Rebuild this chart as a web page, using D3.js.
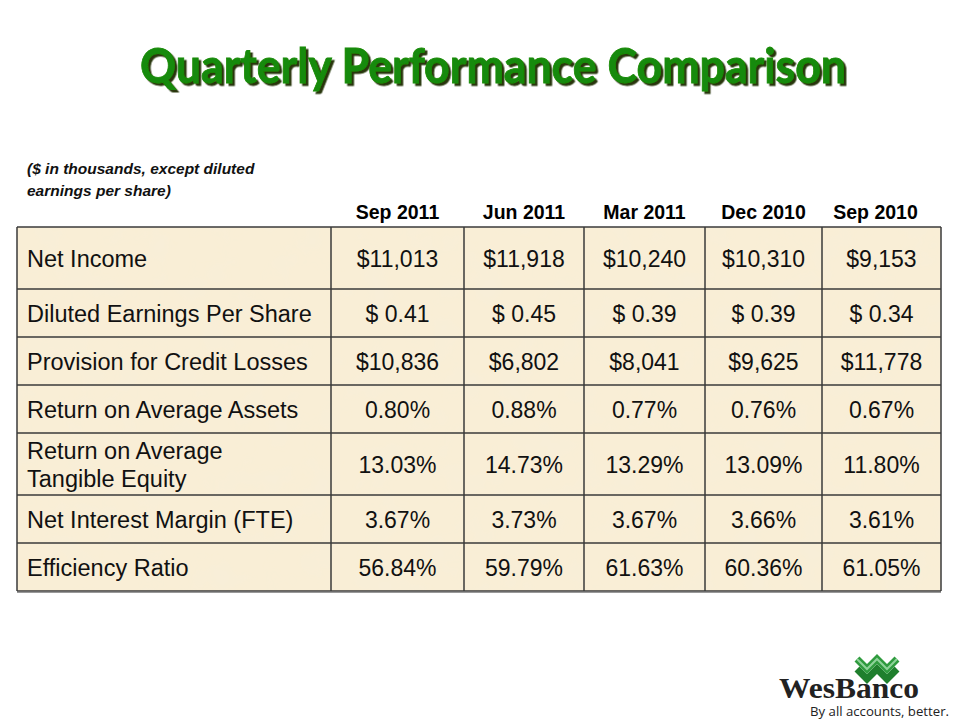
<!DOCTYPE html>
<html><head><meta charset="utf-8">
<script src="https://cdn.jsdelivr.net/npm/d3@7"></script>
<style>body{margin:0;background:#fff}svg{display:block}</style>
</head><body>
<script>
const title = "Quarterly Performance Comparison";
const noteLines = ["($ in thousands, except diluted", "earnings per share)"];
const periods = ["Sep 2011", "Jun 2011", "Mar 2011", "Dec 2010", "Sep 2010"];
const metrics = ["Net Income", "Diluted Earnings Per Share", "Provision for Credit Losses",
  "Return on Average Assets", "Return on Average|Tangible Equity", "Net Interest Margin (FTE)", "Efficiency Ratio"];
const netIncome = [11013, 11918, 10240, 10310, 9153];
const dilutedEPS = [0.41, 0.45, 0.39, 0.39, 0.34];
const provision = [10836, 6802, 8041, 9625, 11778];
const roaa = [0.80, 0.88, 0.77, 0.76, 0.67];
const roate = [13.03, 14.73, 13.29, 13.09, 11.80];
const nim = [3.67, 3.73, 3.67, 3.66, 3.61];
const efficiency = [56.84, 59.79, 61.63, 60.36, 61.05];

const W = 960, H = 720;
const svg = d3.select("body").append("svg").attr("width", W).attr("height", H);
const defs = svg.append("defs");
const f = defs.append("filter").attr("id","paper").attr("x",0).attr("y",0).attr("width","100%").attr("height","100%");
f.append("feTurbulence").attr("type","fractalNoise").attr("baseFrequency","0.03").attr("numOctaves",3).attr("seed",4).attr("result","n");
f.append("feColorMatrix").attr("in","n").attr("type","matrix")
  .attr("values","0 0 0 0 0.93  0 0 0 0 0.85  0 0 0 0 0.70  0 0 0 -1.4 0.8").attr("result","c");
f.append("feComposite").attr("in","c").attr("in2","SourceGraphic").attr("operator","in").attr("result","t");
f.append("feMerge").call(m=>{m.append("feMergeNode").attr("in","SourceGraphic");m.append("feMergeNode").attr("in","t");});
const sh = defs.append("filter").attr("id","shadow").attr("x","-5%").attr("y","-20%").attr("width","110%").attr("height","140%");
sh.append("feDropShadow").attr("dx",2.5).attr("dy",2.5).attr("stdDeviation",0.6).attr("flood-color","#1a2a00").attr("flood-opacity",0.95);

// Title
svg.append("text").attr("x",493).attr("y",83).attr("text-anchor","middle")
  .attr("font-family","Lato, 'Open Sans', sans-serif").attr("font-weight","bold").attr("font-size",47)
  .attr("fill","#178a08").attr("stroke","#178a08").attr("stroke-width",0.8)
  .attr("textLength",706).attr("lengthAdjust","spacingAndGlyphs").attr("filter","url(#shadow)").text(title);

const font = "Arial, 'Liberation Sans', sans-serif";
// note
svg.append("g").selectAll("text").data(noteLines).join("text")
  .attr("x",27).attr("y",(d,i)=>174+i*22)
  .attr("font-family",font).attr("font-size",15.5)
  .attr("font-style","italic").attr("font-weight","bold").attr("fill","#111").text(d=>d);

// table geometry
const tableLeft = 17, tableTop = 227;
const colEdge = d3.scaleLinear().domain([0,1,2,3,4,5]).range([331,464,584,705,822,941]);
const tableRight = colEdge(periods.length);
const colCenter = j => (colEdge(j) + colEdge(j+1)) / 2;

const rowValues = [
  netIncome.map(v => "$" + d3.format(",")(v)),
  dilutedEPS.map(v => "$ " + d3.format(".2f")(v)),
  provision.map(v => "$" + d3.format(",")(v)),
  roaa.map(v => d3.format(".2f")(v) + "%"),
  roate.map(v => d3.format(".2f")(v) + "%"),
  nim.map(v => d3.format(".2f")(v) + "%"),
  efficiency.map(v => d3.format(".2f")(v) + "%")
];
const heights = metrics.map((m,i) => (i === 0 || m.includes("|")) ? 62 : 48);
const tops = heights.map((h,i) => tableTop + d3.sum(heights.slice(0,i)));
const tableBottom = tableTop + d3.sum(heights);

// headers
svg.append("g").selectAll("text").data(periods).join("text")
  .attr("x", (d,j) => colCenter(j) - (j === periods.length-1 ? 6 : 0)).attr("y", 219)
  .attr("text-anchor","middle").attr("font-family",font)
  .attr("font-weight","bold").attr("font-size",19.5).attr("fill","#000").text(d=>d);

// background
svg.append("rect").attr("x",tableLeft).attr("y",tableTop).attr("width",tableRight-tableLeft)
  .attr("height",tableBottom-tableTop).attr("fill","#f9eed6").attr("filter","url(#paper)");

// grid lines
const grid = svg.append("g").attr("stroke","#3a3a3a").attr("stroke-width",1.5);
grid.selectAll("line.h").data([...tops, tableBottom]).join("line").attr("class","h")
  .attr("x1",tableLeft).attr("x2",tableRight).attr("y1",d=>d).attr("y2",d=>d);
grid.selectAll("line.v").data([tableLeft, ...d3.range(periods.length+1).map(colEdge)]).join("line").attr("class","v")
  .attr("x1",d=>d).attr("x2",d=>d).attr("y1",tableTop).attr("y2",tableBottom);
svg.append("line").attr("x1",tableLeft).attr("x2",tableRight).attr("y1",tableBottom+1.5).attr("y2",tableBottom+1.5)
  .attr("stroke","#999").attr("stroke-width",1.2);

// labels & values
const rows = svg.append("g").selectAll("g").data(metrics).join("g")
  .attr("transform",(d,i)=>`translate(0,${tops[i] + heights[i]/2})`);
rows.each(function(m,i){
  const g = d3.select(this);
  const parts = m.split("|");
  g.selectAll("text.lab").data(parts).join("text").attr("class","lab")
    .attr("x",27).attr("y",(d,j)=> 8.5 + (j - (parts.length-1)/2)*28)
    .attr("font-family",font).attr("font-size",23.5).attr("fill","#111").text(d=>d);
  g.selectAll("text.val").data(rowValues[i]).join("text").attr("class","val")
    .attr("x",(d,j)=> colCenter(j)).attr("y",8.5)
    .attr("text-anchor","middle").attr("font-family",font).attr("font-size",23).attr("fill","#111").text(d=>d);
});

// logo
const logo = svg.append("g");
const zig = [[857,659],[867,669],[877,659],[887,669],[897,659]];
logo.append("path").attr("d", d3.line()(zig.map(p=>[p[0],p[1]+10]))).attr("fill","none")
  .attr("stroke","#1f7f2d").attr("stroke-width",7).attr("stroke-linejoin","miter");
logo.append("path").attr("d", d3.line()(zig)).attr("fill","none")
  .attr("stroke","#2f9b3e").attr("stroke-width",7).attr("stroke-linejoin","miter");
logo.append("path").attr("d", d3.line()(zig)).attr("fill","none")
  .attr("stroke","#8fd39a").attr("stroke-width",2).attr("stroke-linejoin","miter");
logo.append("text").attr("x",779).attr("y",698).attr("font-family","'Liberation Serif','DejaVu Serif',serif")
  .attr("font-weight","bold").attr("font-size",30).attr("fill","#222").attr("textLength",140).attr("lengthAdjust","spacingAndGlyphs").text("WesBanco");
logo.append("text").attr("x",810).attr("y",716).attr("font-family","'Open Sans',sans-serif")
  .attr("font-size",13).attr("fill","#222").attr("textLength",139).attr("lengthAdjust","spacingAndGlyphs").text("By all accounts, better.");
</script>
</body></html>
